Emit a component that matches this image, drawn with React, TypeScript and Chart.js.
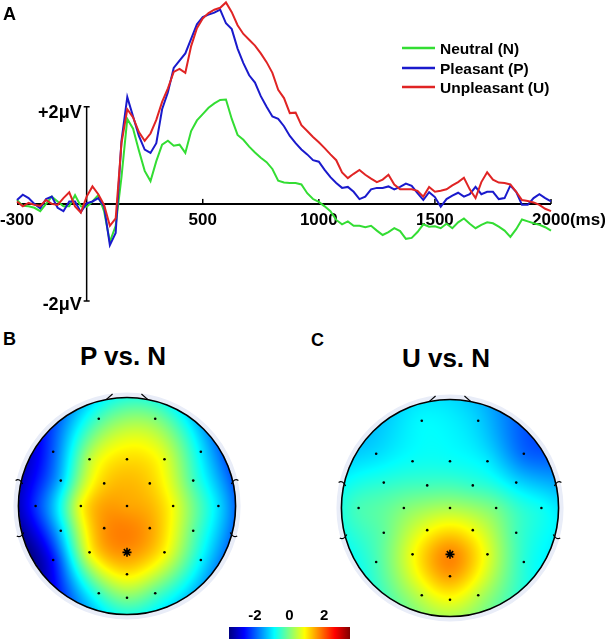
import React, { useEffect, useRef } from "react";
import { Chart, registerables } from "chart.js";

Chart.register(...registerables);

const FONT = "'Liberation Sans', Arial, Helvetica, sans-serif";
Chart.defaults.font.family = FONT;

// ---------------- Panel A data ----------------
const times = [
  -300, -275, -250, -225, -200, -175, -150, -125, -100, -75, -50, -25,
  0, 25, 50, 75, 100, 125, 150, 175, 200, 225, 250, 275,
  300, 325, 350, 375, 400, 425, 450, 475, 500, 525, 550, 575,
  600, 625, 650, 675, 700, 725, 750, 775, 800, 825, 850, 875,
  900, 925, 950, 975, 1000, 1025, 1050, 1075, 1100, 1125, 1150, 1175,
  1200, 1225, 1250, 1275, 1300, 1325, 1350, 1375, 1400, 1425, 1450, 1475,
  1500, 1525, 1550, 1575, 1600, 1625, 1650, 1675, 1700, 1725, 1750, 1775,
  1800, 1825, 1850, 1875, 1900, 1925, 1950, 1975, 2000,
];

const neutral = [
  0.08, -0.04, -0.05, -0.08, -0.15, 0.0, 0.15, 0.05, -0.05, -0.05, 0.18, -0.05,
  -0.06, 0.05, 0.18, -0.15, -0.78, -0.45, 0.55, 1.75, 1.55, 1.1, 0.68, 0.47,
  0.88, 1.22, 1.3, 1.2, 1.22, 1.05, 1.5, 1.72, 1.85, 1.98, 2.07, 2.14,
  2.15, 1.75, 1.42, 1.32, 1.18, 1.06, 0.95, 0.86, 0.72, 0.48, 0.44, 0.43,
  0.43, 0.4, 0.22, 0.1, 0.04, -0.05, -0.15, -0.33, -0.42, -0.36, -0.45, -0.45,
  -0.48, -0.45, -0.55, -0.64, -0.58, -0.5, -0.56, -0.72, -0.7, -0.58, -0.42, -0.47,
  -0.46, -0.5, -0.41, -0.5, -0.38, -0.3, -0.41, -0.5, -0.43, -0.38, -0.4, -0.47,
  -0.55, -0.68, -0.52, -0.32, -0.36, -0.4, -0.43, -0.48, -0.55,
];

const pleasant = [
  0.08, 0.19, 0.12, 0.0, -0.09, 0.1, 0.15, -0.08, -0.15, 0.05, 0.05, -0.17,
  0.01, 0.05, 0.12, -0.05, -0.85, -0.6, 1.3, 2.2, 1.8, 1.4, 1.12, 1.05,
  1.25, 1.95, 2.3, 2.8, 2.95, 3.1, 3.4, 3.7, 3.85, 3.9, 3.94, 4.0,
  3.72, 3.6, 3.2, 2.9, 2.65, 2.5, 2.22, 2.0, 1.8, 1.75, 1.6, 1.4,
  1.25, 1.12, 1.02, 0.9, 0.87, 0.7, 0.55, 0.43, 0.33, 0.35, 0.25, 0.1,
  0.15, 0.3, 0.33, 0.33, 0.36, 0.3, 0.35, 0.42, 0.37, 0.22, 0.08, 0.24,
  0.14, -0.06, 0.1, 0.17, 0.23, 0.15, 0.2, 0.35, 0.2, 0.25, 0.25, 0.1,
  0.12, 0.38, 0.25, -0.02, -0.02, 0.12, 0.2, 0.12, 0.05,
];

const unpleasant = [
  0.05, -0.05, 0.02, -0.02, -0.04, 0.08, 0.0, -0.02, 0.12, 0.24, -0.05, -0.18,
  0.15, 0.36, 0.2, -0.02, -0.45, -0.3, 1.25, 1.95, 1.78, 1.48, 1.3, 1.45,
  1.73, 2.1, 2.38, 2.72, 2.78, 2.7, 3.25, 3.62, 3.82, 3.93, 4.0, 4.04,
  4.15, 3.95, 3.68, 3.5, 3.38, 3.26, 3.1, 2.92, 2.7, 2.35, 2.18, 1.87,
  1.88, 1.62, 1.5, 1.38, 1.27, 1.15, 1.02, 0.9, 0.65, 0.53, 0.62, 0.7,
  0.6, 0.52, 0.45, 0.5, 0.6, 0.4, 0.3, 0.3, 0.3, 0.27, 0.15, 0.35,
  0.25, 0.27, 0.3, 0.38, 0.45, 0.54, 0.3, 0.12, 0.45, 0.65, 0.5, 0.44,
  0.43, 0.4, 0.25, 0.08, 0.06, 0.03, -0.02, -0.1, -0.15,
];

const seriesNames = ["Neutral (N)", "Pleasant (P)", "Unpleasant (U)"];
const seriesColors = ["#33dd33", "#1a1acc", "#e02424"];

const xTicks = [-300, 500, 1000, 1500, 2000];
const xTickLabels = ["-300", "500", "1000", "1500", "2000(ms)"];
const yTicks = [2, -2];
const yTickLabels = ["+2\u03bcV", "-2\u03bcV"];

// ---------------- Panels B / C data ----------------
const electrodeNames = [
  "Fp1", "Fp2", "F7", "F3", "Fz", "F4", "F8", "FC5", "FC1", "FC2", "FC6",
  "T7", "C3", "Cz", "C4", "T8", "CP5", "CP1", "CP2", "CP6",
  "P7", "P3", "Pz", "P4", "P8", "POz", "O1", "Oz", "O2",
];
const electrodeX = [
  -0.26, 0.26, -0.68, -0.345, 0, 0.345, 0.68, -0.61, -0.21, 0.21, 0.61,
  -0.842, -0.425, 0, 0.425, 0.842, -0.61, -0.21, 0.21, 0.61,
  -0.68, -0.345, 0, 0.345, 0.68, 0, -0.26, 0, 0.26,
];
const electrodeY = [
  0.804, 0.804, 0.5, 0.43, 0.43, 0.43, 0.5, 0.234, 0.208, 0.208, 0.234,
  0, 0, 0, 0, 0, -0.228, -0.204, -0.204, -0.228,
  -0.497, -0.427, -0.427, -0.427, -0.497, -0.629, -0.803, -0.845, -0.803,
];
const pVsN = [
  -0.4, 0.0, -2.0, 0.4, 1.1, 0.7, -1.0, -1.3, 1.2, 1.2, -0.4,
  -2.3, 0.8, 1.5, 0.8, -1.1, -1.2, 1.6, 1.5, -0.2,
  -2.5, 0.8, 1.6, 0.9, -0.9, 1.0, -0.5, 0.0, -0.3,
];
const uVsN = [
  -0.9, -1.2, -1.1, -0.8, -0.8, -1.0, -1.9, -0.6, -0.4, -0.5, -1.1,
  -0.4, 0.0, 0.3, -0.1, -0.8, -0.2, 0.8, 0.8, -0.4,
  -0.4, 0.8, 1.7, 0.7, -0.6, 1.5, 0.5, 0.8, 0.4,
];
const starElectrode = "Pz";
const colorMin = -3.5;
const colorMax = 3.5;
const colorbarTicks = [-2, 0, 2];

// ---------------- helpers ----------------
function jet(t: number): [number, number, number] {
  const c = (v: number) => Math.max(0, Math.min(1, v));
  t = c(t);
  return [
    Math.round(255 * c(1.5 - Math.abs(4 * t - 3))),
    Math.round(255 * c(1.5 - Math.abs(4 * t - 2))),
    Math.round(255 * c(1.5 - Math.abs(4 * t - 1))),
  ];
}

function biharmonic(xs: number[], ys: number[], vs: number[]) {
  const n = xs.length;
  const g = (d2: number) => (d2 < 1e-12 ? 0 : d2 * (0.5 * Math.log(d2) - 1));
  const A = xs.map((_, i) => xs.map((_, j) => g((xs[i] - xs[j]) ** 2 + (ys[i] - ys[j]) ** 2)));
  const b = vs.slice();
  for (let c = 0; c < n; c++) {
    let p = c;
    for (let r = c + 1; r < n; r++) if (Math.abs(A[r][c]) > Math.abs(A[p][c])) p = r;
    [A[c], A[p]] = [A[p], A[c]];
    [b[c], b[p]] = [b[p], b[c]];
    for (let r = c + 1; r < n; r++) {
      const f = A[r][c] / A[c][c];
      for (let k = c; k < n; k++) A[r][k] -= f * A[c][k];
      b[r] -= f * b[c];
    }
  }
  const w = new Array(n).fill(0);
  for (let r = n - 1; r >= 0; r--) {
    let s = b[r];
    for (let k = r + 1; k < n; k++) s -= A[r][k] * w[k];
    w[r] = s / A[r][r];
  }
  return (x: number, y: number) => {
    let s = 0;
    for (let j = 0; j < n; j++) s += w[j] * g((x - xs[j]) ** 2 + (y - ys[j]) ** 2);
    return s;
  };
}

function ChartCanvas({ make, left, top, width, height }: any) {
  const ref = useRef<HTMLCanvasElement>(null);
  useEffect(() => {
    const chart = new Chart(ref.current as HTMLCanvasElement, make());
    return () => chart.destroy();
  }, []);
  return (
    <canvas
      ref={ref}
      width={width}
      height={height}
      style={{ position: "absolute", left, top, width, height }}
    />
  );
}

// ---------------- Panel A ----------------
function makeErp() {
  const vals = [neutral, pleasant, unpleasant];
  const order = [2, 1, 0]; // unpleasant drawn on top
  const datasets = order.map((k) => ({
    label: seriesNames[k],
    data: times.map((t, i) => ({ x: t, y: vals[k][i] })),
    borderColor: seriesColors[k],
    borderWidth: 2,
    pointRadius: 0,
    tension: 0,
    fill: false,
    clip: false as any,
  }));
  const axesPlugin = {
    id: "erpAxes",
    beforeDatasetsDraw(chart: any) {
      const { ctx } = chart;
      const x = chart.scales.x;
      const y = chart.scales.y;
      const y0 = y.getPixelForValue(0);
      const x0 = x.getPixelForValue(0);
      ctx.save();
      ctx.strokeStyle = "#000";
      ctx.lineWidth = 2;
      ctx.beginPath();
      ctx.moveTo(x.getPixelForValue(xTicks[0]), y0);
      ctx.lineTo(x.getPixelForValue(xTicks[xTicks.length - 1]), y0);
      ctx.stroke();
      ctx.lineWidth = 1.5;
      xTicks.slice(1).forEach((t) => {
        const px = x.getPixelForValue(t);
        ctx.beginPath();
        ctx.moveTo(px, y0);
        ctx.lineTo(px, y0 - 5);
        ctx.stroke();
      });
      const yTop = y.getPixelForValue(yTicks[0]);
      const yBot = y.getPixelForValue(yTicks[1]);
      ctx.beginPath();
      ctx.moveTo(x0, yTop);
      ctx.lineTo(x0, yBot);
      ctx.moveTo(x0 - 3, yTop);
      ctx.lineTo(x0 + 3, yTop);
      ctx.moveTo(x0 - 3, yBot);
      ctx.lineTo(x0 + 3, yBot);
      ctx.stroke();

      ctx.fillStyle = "#000";
      ctx.font = `bold 17px ${FONT}`;
      ctx.textBaseline = "alphabetic";
      xTicks.forEach((t, i) => {
        const px = x.getPixelForValue(t);
        if (i === xTicks.length - 1) {
          const w = ctx.measureText(String(t)).width;
          ctx.textAlign = "left";
          ctx.fillText(xTickLabels[i], px - w / 2, y0 + 21);
        } else {
          ctx.textAlign = "center";
          ctx.fillText(xTickLabels[i], px, y0 + 21);
        }
      });
      ctx.font = `bold 18px ${FONT}`;
      ctx.textAlign = "right";
      ctx.fillText(yTickLabels[0], x0 - 5, yTop + 11);
      ctx.fillText(yTickLabels[1], x0 - 5, yBot + 9);
      ctx.restore();
    },
    afterDraw(chart: any) {
      const { ctx } = chart;
      ctx.save();
      ctx.font = `bold 15.5px ${FONT}`;
      ctx.textAlign = "left";
      ctx.textBaseline = "alphabetic";
      const rows = [48, 68, 87];
      seriesNames.forEach((name, i) => {
        ctx.strokeStyle = seriesColors[i];
        ctx.lineWidth = 2.5;
        ctx.beginPath();
        ctx.moveTo(402, rows[i]);
        ctx.lineTo(435, rows[i]);
        ctx.stroke();
        ctx.fillStyle = "#000";
        ctx.fillText(name, 440, rows[i] + 6);
      });
      ctx.restore();
    },
  };
  return {
    type: "line",
    data: { datasets },
    options: {
      responsive: false,
      animation: false,
      devicePixelRatio: 1,
      events: [],
      layout: { padding: { left: 17, right: 54, top: 0, bottom: 19 } },
      plugins: { legend: { display: false }, tooltip: { enabled: false } },
      scales: {
        x: { type: "linear", min: -300, max: 2000, display: false },
        y: { type: "linear", min: -2, max: 4.2, display: false },
      },
    },
    plugins: [axesPlugin],
  } as any;
}

// ---------------- Panels B / C ----------------
const HEAD_LIMIT = 128 / 114;

function makeTopo(values: number[]) {
  const starIdx = electrodeNames.indexOf(starElectrode);
  const dots = electrodeX
    .map((x, i) => ({ x, y: electrodeY[i], i }))
    .filter((p) => p.i !== starIdx)
    .map((p) => ({ x: p.x, y: p.y }));
  const star = [{ x: electrodeX[starIdx], y: electrodeY[starIdx] }];
  const topoPlugin = {
    id: "topo",
    beforeDatasetsDraw(chart: any) {
      const { ctx, chartArea: a } = chart;
      const xs = chart.scales.x;
      const ys = chart.scales.y;
      const interp = biharmonic(electrodeX, electrodeY, values);
      const cx = xs.getPixelForValue(0);
      const cy = ys.getPixelForValue(0);
      const R = xs.getPixelForValue(1) - cx;
      ctx.save();
      // halo
      ctx.beginPath();
      ctx.arc(cx, cy, R + 2.5, 0, 2 * Math.PI);
      ctx.strokeStyle = "#e9edf8";
      ctx.lineWidth = 5;
      ctx.stroke();
      // field
      const w = Math.round(a.right - a.left);
      const h = Math.round(a.bottom - a.top);
      const off = document.createElement("canvas");
      off.width = w;
      off.height = h;
      const octx = off.getContext("2d") as CanvasRenderingContext2D;
      const img = octx.createImageData(w, h);
      for (let py = 0; py < h; py++) {
        const vy = ys.getValueForPixel(a.top + py + 0.5);
        for (let px = 0; px < w; px++) {
          const vx = xs.getValueForPixel(a.left + px + 0.5);
          if (vx * vx + vy * vy > 1.0) continue;
          const v = interp(vx, vy);
          const [r, g, b] = jet((v - colorMin) / (colorMax - colorMin));
          const o = (py * w + px) * 4;
          img.data[o] = r;
          img.data[o + 1] = g;
          img.data[o + 2] = b;
          img.data[o + 3] = 255;
        }
      }
      octx.putImageData(img, 0, 0);
      ctx.drawImage(off, a.left, a.top);
      // outline
      ctx.beginPath();
      ctx.arc(cx, cy, R, 0, 2 * Math.PI);
      ctx.strokeStyle = "#000";
      ctx.lineWidth = 1.6;
      ctx.stroke();
      // nose
      ctx.lineWidth = 1.2;
      [-1, 1].forEach((s) => {
        const bx = 0.19 * s;
        const by = Math.sqrt(1 - bx * bx);
        const ex = bx + (0 - bx) * 0.3;
        const ey = by + (1.15 - by) * 0.3;
        ctx.beginPath();
        ctx.moveTo(xs.getPixelForValue(bx), ys.getPixelForValue(by));
        ctx.lineTo(xs.getPixelForValue(ex), ys.getPixelForValue(ey));
        ctx.stroke();
      });
      // ears (small hooks)
      [-1, 1].forEach((s) => {
        [0.24, -0.28].forEach((ey, k) => {
          const rimX = xs.getPixelForValue(s * Math.sqrt(1 - ey * ey));
          const py = ys.getPixelForValue(ey);
          const d = k === 0 ? 1 : -1; // 1 = upper hook, -1 = lower hook
          ctx.beginPath();
          ctx.moveTo(rimX - s * 1, py + d * 4);
          ctx.quadraticCurveTo(rimX + s * 2, py - d * 2, rimX + s * 6, py + d * 0.5);
          ctx.stroke();
        });
      });
      ctx.restore();
    },
  };
  return {
    type: "scatter",
    data: {
      datasets: [
        {
          data: dots,
          pointRadius: 1.3,
          pointBackgroundColor: "#000",
          pointBorderWidth: 0,
        },
        {
          data: star,
          pointStyle: "star",
          pointRadius: 4.5,
          pointBorderColor: "#000",
          pointBorderWidth: 1.6,
        },
      ],
    },
    options: {
      responsive: false,
      animation: false,
      devicePixelRatio: 1,
      events: [],
      plugins: { legend: { display: false }, tooltip: { enabled: false } },
      scales: {
        x: { type: "linear", min: -HEAD_LIMIT, max: HEAD_LIMIT, display: false },
        y: { type: "linear", min: -HEAD_LIMIT, max: HEAD_LIMIT, display: false },
      },
    },
    plugins: [topoPlugin],
  } as any;
}

function makeColorbar() {
  const cbPlugin = {
    id: "colorbar",
    beforeDatasetsDraw(chart: any) {
      const { ctx, chartArea: a } = chart;
      const xs = chart.scales.x;
      ctx.save();
      for (let px = Math.round(a.left); px < Math.round(a.right); px++) {
        const v = xs.getValueForPixel(px + 0.5);
        const [r, g, b] = jet((v - colorMin) / (colorMax - colorMin));
        ctx.fillStyle = `rgb(${r},${g},${b})`;
        ctx.fillRect(px, a.top, 1, a.bottom - a.top);
      }
      ctx.fillStyle = "#000";
      ctx.font = `bold 15px ${FONT}`;
      ctx.textAlign = "center";
      ctx.textBaseline = "alphabetic";
      colorbarTicks.forEach((t) => {
        ctx.fillText(String(t), xs.getPixelForValue(t), a.top - 7);
      });
      ctx.restore();
    },
  };
  return {
    type: "scatter",
    data: { datasets: [{ data: [] }] },
    options: {
      responsive: false,
      animation: false,
      devicePixelRatio: 1,
      events: [],
      layout: { padding: { left: 9, right: 10, top: 27, bottom: 1 } },
      plugins: { legend: { display: false }, tooltip: { enabled: false } },
      scales: {
        x: { type: "linear", min: colorMin, max: colorMax, display: false },
        y: { type: "linear", min: 0, max: 1, display: false },
      },
    },
    plugins: [cbPlugin],
  } as any;
}

function Label({ text, left, top, size, width, center }: any) {
  return (
    <div
      style={{
        position: "absolute",
        left,
        top,
        width,
        fontSize: size,
        lineHeight: `${size}px`,
        fontWeight: "bold",
        fontFamily: FONT,
        textAlign: center ? "center" : "left",
        whiteSpace: "nowrap",
        color: "#000",
      }}
    >
      {text}
    </div>
  );
}

export default function App() {
  return (
    <div
      style={{
        position: "absolute",
        left: 0,
        top: 0,
        width: 605,
        height: 640,
        background: "#fff",
        overflow: "hidden",
      }}
    >
      <ChartCanvas make={makeErp} left={0} top={0} width={605} height={320} />
      <ChartCanvas make={() => makeTopo(pVsN)} left={-1} top={378} width={256} height={256} />
      <ChartCanvas make={() => makeTopo(uVsN)} left={322} top={380} width={256} height={256} />
      <ChartCanvas make={makeColorbar} left={220} top={600} width={140} height={40} />
      <Label text="A" left={3} top={5} size={18} />
      <Label text="B" left={3} top={330} size={18} />
      <Label text="C" left={311} top={331} size={18} />
      <Label text="P vs. N" left={23} top={343} size={26} width={200} center />
      <Label text="U vs. N" left={346} top={345} size={26} width={200} center />
    </div>
  );
}
